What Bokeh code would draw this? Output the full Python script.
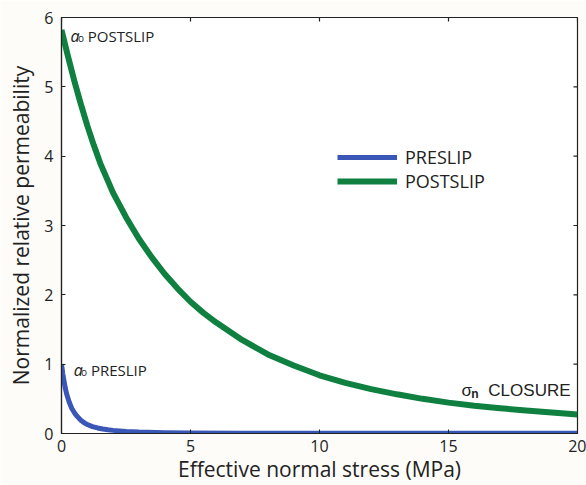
from bokeh.plotting import figure
from bokeh.models import Label, Legend, LegendItem, FixedTicker
from bokeh.embed import file_html
from bokeh.resources import INLINE

# ---- data ----
x_ticks = [0, 5, 10, 15, 20]
y_ticks = [0, 1, 2, 3, 4, 5, 6]

preslip_x = [0, 0.05, 0.1, 0.15, 0.2, 0.3, 0.4, 0.5, 0.6, 0.75, 0.9, 1.0, 1.2,
             1.4, 1.6, 1.8, 2.0, 2.5, 3.0, 4.0, 5.0, 7.0, 10.0, 15.0, 20.0]
preslip_y = [1.0, 0.86, 0.75, 0.65, 0.57, 0.45, 0.36, 0.30, 0.25, 0.19, 0.15,
             0.13, 0.10, 0.08, 0.065, 0.053, 0.045, 0.03, 0.02, 0.012, 0.008,
             0.005, 0.004, 0.003, 0.003]

postslip_x = [0, 0.25, 0.5, 0.75, 1.0, 1.25, 1.5, 2.0, 2.5, 3.0, 3.5, 4.0, 4.5,
              5.0, 5.5, 6.0, 7.0, 8.0, 9.0, 10.0, 11.0, 12.0, 13.0, 14.0, 15.0,
              16.0, 17.0, 18.0, 19.0, 20.0]
postslip_y = [5.82, 5.44, 5.08, 4.75, 4.44, 4.16, 3.90, 3.47, 3.12, 2.81, 2.54,
              2.30, 2.09, 1.90, 1.74, 1.60, 1.35, 1.14, 0.98, 0.84, 0.73, 0.64,
              0.565, 0.50, 0.445, 0.40, 0.365, 0.332, 0.302, 0.275]

series_names = ["PRESLIP", "POSTSLIP"]
series_colors = ["#3a57b8", "#0f8040"]

FONT = "Open Sans"
INK = "#222222"

p = figure(width=586, height=485, x_range=(0, 20), y_range=(0, 6),
           output_backend="svg", toolbar_location=None,
           min_border_left=61, min_border_right=9, min_border_top=17,
           min_border_bottom=52)
p.border_fill_color = "#fdfcf9"
p.background_fill_color = "#ffffff"
p.outline_line_color = INK
p.outline_line_width = 1.2
p.xgrid.visible = False
p.ygrid.visible = False

r_post = p.line(postslip_x, postslip_y, line_color=series_colors[1],
                line_width=6, line_join="round")
r_pre = p.line(preslip_x, preslip_y, line_color=series_colors[0],
               line_width=5, line_join="round")

for ax, ticks in ((p.xaxis[0], x_ticks), (p.yaxis[0], y_ticks)):
    ax.ticker = FixedTicker(ticks=ticks)
    ax.major_tick_in = 4
    ax.major_tick_out = 0
    ax.minor_tick_in = 0
    ax.minor_tick_out = 0
    ax.axis_line_color = INK
    ax.axis_line_width = 1.2
    ax.major_tick_line_color = INK
    ax.major_label_text_font = FONT
    ax.major_label_text_font_size = "16px"
    ax.major_label_text_color = INK
    ax.axis_label_text_font = FONT
    ax.axis_label_text_font_style = "normal"
    ax.axis_label_text_color = INK

p.xaxis[0].major_label_standoff = 6
p.yaxis[0].major_label_standoff = 8
p.xaxis[0].axis_label = "Effective normal stress (MPa)"
p.xaxis[0].axis_label_text_font_size = "21px"
p.xaxis[0].axis_label_standoff = 0
p.yaxis[0].axis_label = "Normalized relative permeability"
p.yaxis[0].axis_label_text_font_size = "21px"
p.yaxis[0].axis_label_standoff = 6

# mirrored inward ticks on the top and right edges of the box
top_len = 0.058
right_len = 0.155
p.segment(x0=x_ticks, y0=[6] * len(x_ticks), x1=x_ticks,
          y1=[6 - top_len] * len(x_ticks), line_color=INK, line_width=1.2)
p.segment(x0=[20] * len(y_ticks), y0=y_ticks, x1=[20 - right_len] * len(y_ticks),
          y1=y_ticks, line_color=INK, line_width=1.2)

legend = Legend(items=[LegendItem(label=series_names[0], renderers=[r_pre]),
                       LegendItem(label=series_names[1], renderers=[r_post])],
                location=(276, 240))
legend.label_text_font = FONT
legend.label_text_font_size = "18px"
legend.label_text_color = INK
legend.glyph_width = 60
legend.glyph_height = 24
legend.label_height = 24
legend.label_standoff = 8
legend.spacing = 0
legend.padding = 0
legend.margin = 0
legend.border_line_alpha = 0
legend.background_fill_alpha = 0
p.add_layout(legend)


def lab(x, y, text, size, style="normal", font=FONT, align="left"):
    p.add_layout(Label(x=x, y=y, text=text, text_font=font,
                       text_font_size=size, text_font_style=style,
                       text_color=INK, text_align=align,
                       text_baseline="alphabetic"))


# a_o POSTSLIP
lab(0.35, 5.74, "a", "16px", style="italic")
lab(0.64, 5.70, "o", "10px")
lab(1.02, 5.74, "POSTSLIP", "15px")
# a_o PRESLIP
lab(0.47, 0.92, "a", "16px", style="italic")
lab(0.76, 0.88, "o", "10px")
lab(1.14, 0.92, "PRESLIP", "15px")
# sigma_n CLOSURE
lab(15.50, 0.62, "σ", "17px", font="Liberation Sans")
lab(15.88, 0.57, "n", "12px", style="bold", font="Liberation Sans")
lab(19.73, 0.62, "CLOSURE", "17px", font="Liberation Sans", align="right")

open("out.html", "w").write(file_html(p, INLINE))
